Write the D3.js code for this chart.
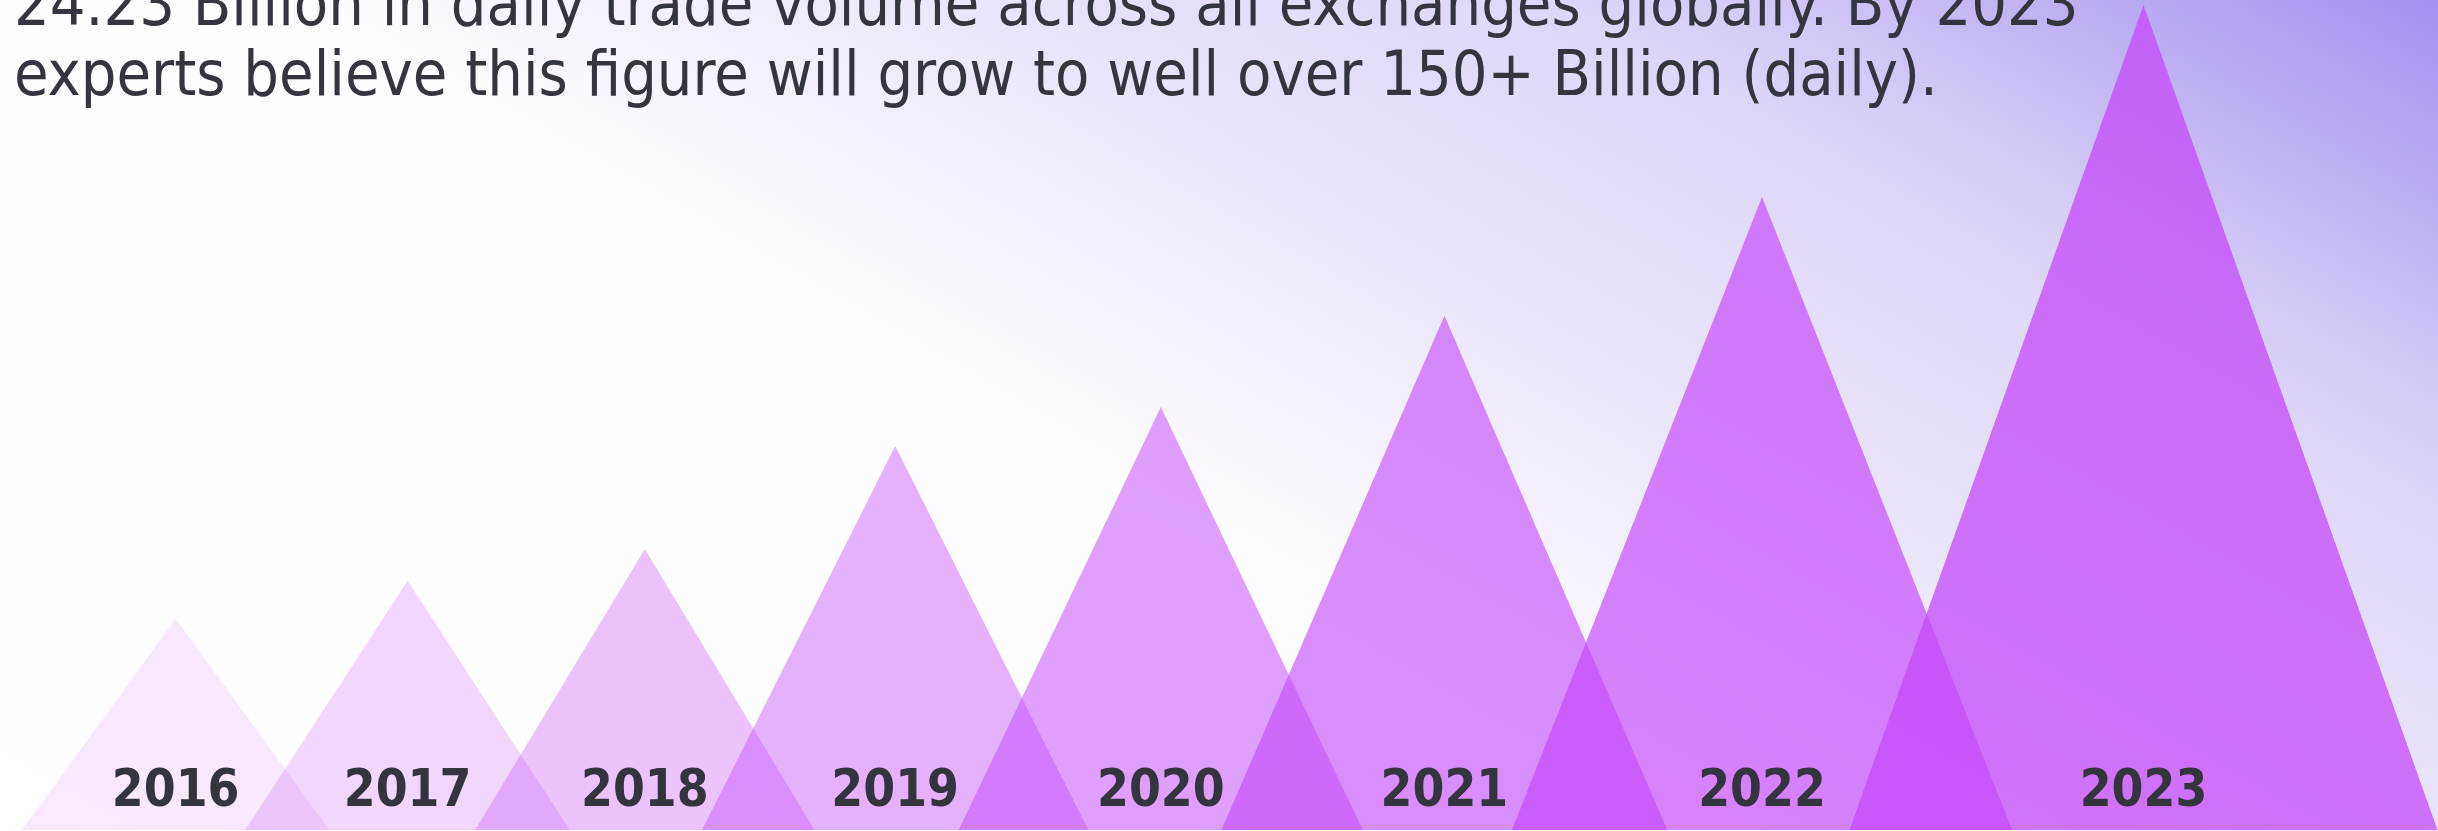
<!DOCTYPE html>
<html lang="en">
<head>
    <meta charset="UTF-8">
    <title>Daily Trade Volume</title>
    <script src="https://cdnjs.cloudflare.com/ajax/libs/d3/7.8.5/d3.min.js"></script>
    <style>
        html, body { margin: 0; padding: 0; overflow: hidden; background: #fff; }
        svg { display: block; }
    </style>
</head>
<body>
    <script>
        // chart data
        const years = ["2016", "2017", "2018", "2019", "2020", "2021", "2022", "2023"];
        const volume = [38.4, 45.3, 51.1, 69.8, 76.9, 93.5, 115.1, 150];
        const titleLines = [
            "24.23 Billion in daily trade volume across all exchanges globally. By 2023",
            "experts believe this figure will grow to well over 150+ Billion (daily)."
        ];

        const width = 2438;
        const height = 831;
        const baseY = 830;

        const svg = d3.select("body").append("svg")
            .attr("width", width)
            .attr("height", height);

        // background gradient
        const defs = svg.append("defs");
        const grad = defs.append("linearGradient")
            .attr("id", "bg")
            .attr("gradientUnits", "userSpaceOnUse")
            .attr("x1", 0).attr("y1", height)
            .attr("x2", 969).attr("y2", -848);
        [[0, "#ffffff"], [0.45, "#fdfcfe"], [0.63, "#e9e4f9"], [0.77, "#dfd7f7"],
         [0.81, "#d6cdf6"], [1, "#a58ff0"]].forEach(s => {
            grad.append("stop").attr("offset", s[0]).attr("stop-color", s[1]);
        });

        svg.append("rect")
            .attr("width", width)
            .attr("height", height)
            .attr("fill", "url(#bg)");

        // scales: height and width both follow the volume
        const y = d3.scaleLinear().domain([0, 150]).range([baseY, 5]);
        const bandW = d3.scalePow().exponent(2).domain([0, 150]).range([215.6, 424.4]);
        const halfW = d3.scaleLinear().domain([0, 150]).range([105.4, 294]);
        const opacity = d3.scaleLinear().domain([0, 5, 7]).range([0.12, 0.62, 0.74]);

        // variable width bands laid side by side
        const data = years.map((yr, i) => ({ year: yr, value: volume[i], i: i }));
        let acc = 0;
        data.forEach(d => {
            d.band = bandW(d.value);
            d.mid = acc + d.band / 2;
            acc += d.band;
        });
        const x = d3.scaleLinear().domain([0, acc]).range([61, 61 + acc]);

        const tri = d => {
            const cx = x(d.mid), hw = halfW(d.value);
            return d3.line()([[cx - hw, y(0)], [cx, y(d.value)], [cx + hw, y(0)]]) + "Z";
        };

        svg.selectAll(".tri")
            .data(data)
            .enter().append("path")
            .attr("class", "tri")
            .attr("d", tri)
            .attr("fill", "#c448fa")
            .attr("fill-opacity", d => opacity(d.i));

        svg.selectAll(".year")
            .data(data)
            .enter().append("text")
            .attr("class", "year")
            .attr("x", d => x(d.mid))
            .attr("y", 806)
            .attr("text-anchor", "middle")
            .style("font-family", "'DejaVu Sans Condensed', 'DejaVu Sans', sans-serif")
            .style("font-weight", "bold")
            .style("font-size", "51px")
            .style("fill", "#34343f")
            .text(d => d.year);

        svg.selectAll(".title")
            .data(titleLines)
            .enter().append("text")
            .attr("class", "title")
            .attr("x", 14)
            .attr("y", (d, i) => 25 + i * 70)
            .style("font-family", "'DejaVu Sans Condensed', 'DejaVu Sans', sans-serif")
            .style("font-size", "62.5px")
            .style("fill", "#34353f")
            .text(d => d);
    </script>
</body>
</html>
